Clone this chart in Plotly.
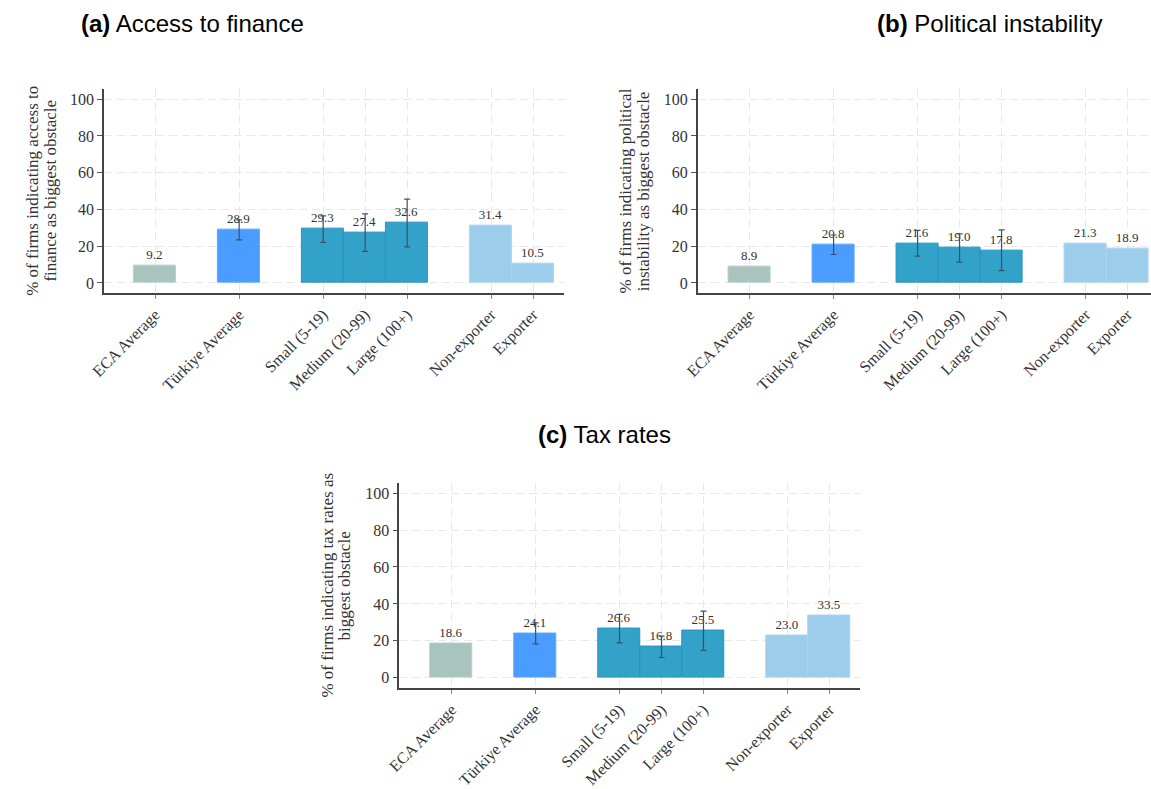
import plotly.graph_objects as go

# ---------------- data ----------------
categories = ["ECA Average", "Türkiye Average", "Small (5-19)", "Medium (20-99)",
              "Large (100+)", "Non-exporter", "Exporter"]

finance = [9.2, 28.9, 29.3, 27.4, 32.6, 31.4, 10.5]
finance_err = [None, 5.4, 7.2, 10.2, 13.0, None, None]

political = [8.9, 20.8, 21.6, 19.0, 17.8, 21.3, 18.9]
political_err = [None, 5.3, 7.0, 7.7, 11.1, None, None]

tax = [18.6, 24.1, 26.6, 16.8, 25.5, 23.0, 33.5]
tax_err = [None, 5.7, 7.7, 5.8, 10.6, None, None]

y_tick_values = [0, 20, 40, 60, 80, 100]

panel_titles = ["<b>(a)</b> Access to finance",
                "<b>(b)</b> Political instability",
                "<b>(c)</b> Tax rates"]
y_title_lines = [["% of firms indicating access to", "finance as biggest obstacle"],
                 ["% of firms indicating political", "instability as biggest obstacle"],
                 ["% of firms indicating tax rates as", "biggest obstacle"]]

# ---------------- layout / style ----------------
W, H = 1151, 789
x_slots = [0, 2, 4, 5, 6, 8, 9]          # grouped category slots
bar_colors = ["#a9c4bf", "#4b9cff", "#33a2c9", "#33a2c9", "#33a2c9", "#9ccdeb", "#9ccdeb"]
line_colors = ["#b5cdc8", "#5aa6ff", "#2494c0", "#2494c0", "#2494c0", "#a9d4ef", "#a9d4ef"]
SERIF = "Liberation Serif, Times New Roman, serif"
SANS = "Liberation Sans, Arial, sans-serif"


def px_x(p):
    return p / W


def px_y(p):
    return 1 - p / H


panels = [
    dict(vals=finance, err=finance_err, left=91, right=557, top=90, bottom=298,
         xr=[-1.22, 9.74], title=(66, 24)),
    dict(vals=political, err=political_err, left=692, right=1151, top=90, bottom=298,
         xr=[-1.24, 9.56], title=(872, 24)),
    dict(vals=tax, err=tax_err, left=390, right=856, top=490, bottom=699,
         xr=[-1.25, 9.72], title=(528, 441)),
]

fig = go.Figure()
annotations = []

for i, p in enumerate(panels):
    n = "" if i == 0 else str(i + 1)
    xa, ya = "x" + n, "y" + n

    fig.add_trace(go.Bar(
        x=x_slots, y=p["vals"], width=1.0,
        marker=dict(color=bar_colors, line=dict(color=line_colors, width=1)),
        text=[f"{v:.1f}" for v in p["vals"]], textposition="outside",
        textfont=dict(family=SERIF, size=13, color="#333333"),
        constraintext="none", cliponaxis=False,
        xaxis=xa, yaxis=ya, showlegend=False, hoverinfo="skip"))

    ex = [x for x, e in zip(x_slots, p["err"]) if e is not None]
    ey = [v for v, e in zip(p["vals"], p["err"]) if e is not None]
    ee = [e for e in p["err"] if e is not None]
    fig.add_trace(go.Scatter(
        x=ex, y=ey, mode="markers", marker=dict(size=1, opacity=0),
        error_y=dict(type="data", array=ee, symmetric=True, color="#3e5066",
                     thickness=1.2, width=3),
        xaxis=xa, yaxis=ya, showlegend=False, hoverinfo="skip", cliponaxis=False))

    xaxis = dict(
        domain=[px_x(p["left"]), px_x(p["right"])], anchor=ya,
        range=p["xr"], tickmode="array", tickvals=x_slots, ticktext=categories,
        tickangle=-45, tickfont=dict(family=SERIF, size=16, color="#333333"),
        showline=True, linecolor="#444444", linewidth=1.5,
        ticks="outside", ticklen=4, tickcolor="#888888",
        showgrid=True, gridcolor="#e8e8e8", griddash="8px,5px", gridwidth=1,
        zeroline=False, fixedrange=True)
    yaxis = dict(
        domain=[px_y(p["bottom"]), px_y(p["top"])], anchor=xa,
        range=[-5.7, 105.7], tickmode="array", tickvals=y_tick_values,
        tickfont=dict(family=SERIF, size=16, color="#333333"),
        showline=True, linecolor="#444444", linewidth=1.5,
        ticks="outside", ticklen=5, tickcolor="#555555",
        showgrid=True, gridcolor="#e8e8e8", griddash="8px,5px", gridwidth=1,
        zeroline=False, fixedrange=True)
    fig.layout["xaxis" + n] = xaxis
    fig.layout["yaxis" + n] = yaxis

    # panel title
    annotations.append(dict(
        text=panel_titles[i], x=px_x(p["title"][0]), y=px_y(p["title"][1]),
        xref="paper", yref="paper", xanchor="left", yanchor="middle",
        showarrow=False, font=dict(family=SANS, size=24, color="#000000")))
    # y-axis title (two lines, tight spacing)
    for k, line in enumerate(y_title_lines[i]):
        annotations.append(dict(
            text=line, x=px_x(p["left"] - 73 + 18 * k),
            y=px_y((p["top"] + p["bottom"]) / 2),
            xref="paper", yref="paper", xanchor="center", yanchor="middle",
            textangle=-90, showarrow=False,
            font=dict(family=SERIF, size=17, color="#333333")))

fig.update_layout(
    width=W, height=H, margin=dict(l=0, r=0, t=0, b=0),
    paper_bgcolor="white", plot_bgcolor="white",
    annotations=annotations, bargap=0)

fig.write_html("out.html", config={"displayModeBar": False},
               post_script="document.body.style.margin='0';")
